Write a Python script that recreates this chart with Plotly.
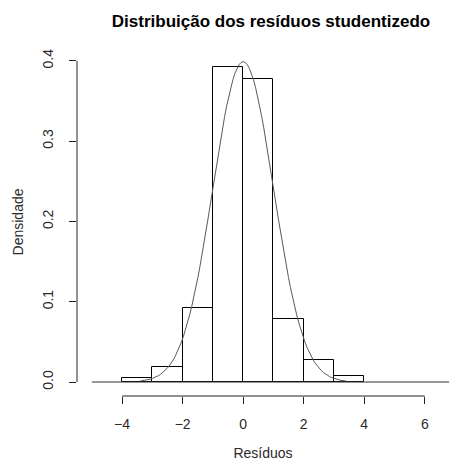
import numpy as np
import plotly.graph_objects as go

# Histogram of studentized residuals (density scale), unit-width bins
bin_left = [-4, -3, -2, -1, 0, 1, 2, 3]
densidade = [0.005, 0.019, 0.092, 0.392, 0.377, 0.078, 0.027, 0.007]

# Reference normal density curve N(0, 1) over the residual range
mu, sigma = 0.0, 1.0
curve_from, curve_to = -3.4, 3.4

x_ticks = [-4, -2, 0, 2, 4, 6]
y_ticks = [0.0, 0.1, 0.2, 0.3, 0.4]
y_tick_text = ["0.0", "0.1", "0.2", "0.3", "0.4"]

font = "Liberation Sans, Arial, sans-serif"
txt = "#2a2a2a"

xc = np.linspace(curve_from, curve_to, 101)
yc = np.exp(-0.5 * ((xc - mu) / sigma) ** 2) / (sigma * np.sqrt(2 * np.pi))

fig = go.Figure()
fig.add_trace(go.Bar(
    x=[b + 0.5 for b in bin_left], y=densidade, width=1.0,
    marker=dict(color="rgba(0,0,0,0)", line=dict(color="black", width=1)),
    hoverinfo="skip",
))
fig.add_trace(go.Scatter(
    x=xc, y=yc, mode="lines", line=dict(color="#5a5a5a", width=1),
    hoverinfo="skip",
))

# baseline at zero
fig.add_shape(type="line", xref="x", yref="y", x0=-5.0, x1=7.5, y0=0, y1=0,
              line=dict(color="#333333", width=1))
# axis lines spanning only the tick range
fig.add_shape(type="line", xref="x", yref="paper", x0=min(x_ticks), x1=max(x_ticks),
              y0=0, y1=0, line=dict(color="#222222", width=1))
fig.add_shape(type="line", xref="paper", yref="y", x0=0, x1=0,
              y0=min(y_ticks), y1=max(y_ticks), line=dict(color="#222222", width=1))

fig.update_layout(
    width=449, height=461,
    margin=dict(l=77, r=0, t=48, b=65),
    plot_bgcolor="white", paper_bgcolor="white",
    showlegend=False, bargap=0,
    title=dict(text="<b>Distribuição dos resíduos studentizedo</b>",
               x=271 / 449, xref="container", xanchor="center",
               y=1 - 21 / 461, yref="container", yanchor="middle",
               font=dict(family=font, size=17, color="black")),
    xaxis=dict(range=[-5.49, 6.80], tickvals=x_ticks, ticks="outside", ticklen=7,
               tickcolor="#222222", showgrid=False, zeroline=False, showline=False,
               ticklabelstandoff=8, automargin=False,
               tickfont=dict(family=font, size=14, color=txt),
               title=dict(text="Resíduos", standoff=21,
                          font=dict(family=font, size=14, color=txt))),
    yaxis=dict(range=[-0.0174, 0.416], tickvals=y_ticks, ticktext=y_tick_text,
               ticks="outside", ticklen=7, tickangle=-90, tickcolor="#222222",
               showgrid=False, zeroline=False, showline=False,
               ticklabelstandoff=10, automargin=False,
               tickfont=dict(family=font, size=14, color=txt),
               title=dict(text="Densidade", standoff=13,
                          font=dict(family=font, size=14, color=txt))),
)

fig.write_html("out.html")
